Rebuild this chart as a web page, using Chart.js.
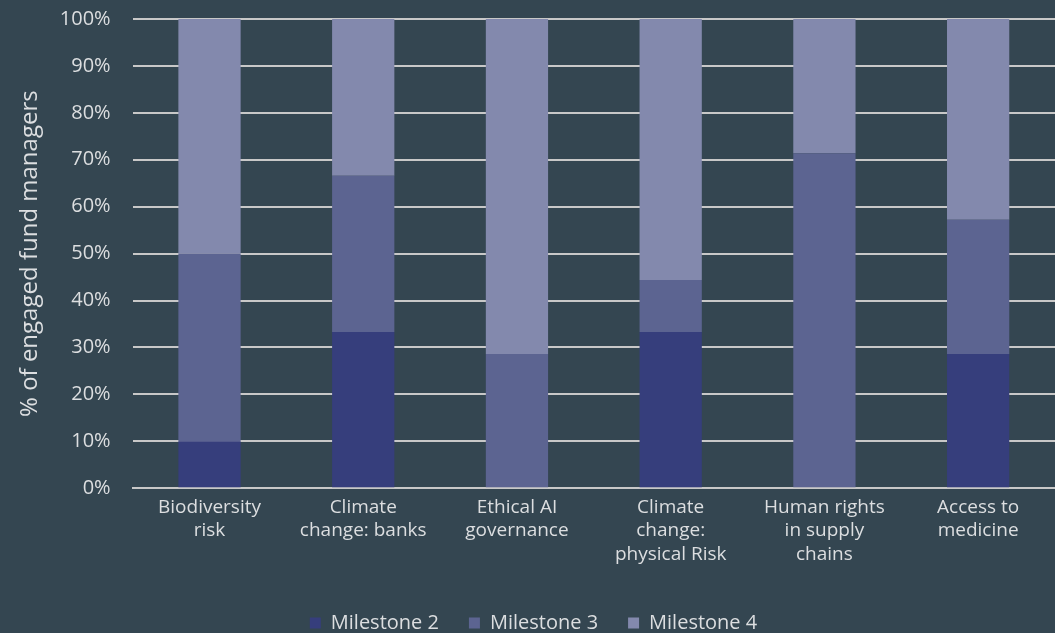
<!DOCTYPE html>
<html lang="en">
<head>
<meta charset="UTF-8">
<title>Milestones by engagement theme</title>
<script src="https://cdn.jsdelivr.net/npm/chart.js"></script>
<style>
    body {
    margin: 0;
    padding: 0;
    background-color: #344651;
    }
    #wrap {
    width: 1055px;
    height: 633px;
    }
</style>
</head>
<body>
<div id="wrap"><canvas id="chart"></canvas></div>
<script>
const categories = [
    ["Biodiversity", "risk"],
    ["Climate", "change: banks"],
    ["Ethical AI", "governance"],
    ["Climate", "change:", "physical Risk"],
    ["Human rights", "in supply", "chains"],
    ["Access to", "medicine"]
];
const milestone2 = [10, 33.3, 0, 33.3, 0, 28.6];
const milestone3 = [40, 33.3, 28.6, 11.1, 71.4, 28.6];
const milestone4 = [50, 33.4, 71.4, 55.6, 28.6, 42.8];
const yTicks = [0, 10, 20, 30, 40, 50, 60, 70, 80, 90, 100];

const textColor = "#dcdee0";
const fontFamily = "'Open Sans', sans-serif";

new Chart(document.getElementById("chart"), {
    type: "bar",
    data: {
        labels: categories,
        datasets: [
            { label: "Milestone 2", data: milestone2, backgroundColor: "#363e7c" },
            { label: "Milestone 3", data: milestone3, backgroundColor: "#5c6491" },
            { label: "Milestone 4", data: milestone4, backgroundColor: "#8389ad" }
        ]
    },
    options: {
        responsive: true,
        maintainAspectRatio: false,
        animation: false,
        layout: { padding: { top: 0, right: 0, bottom: -10, left: 12 } },
        datasets: { bar: { barPercentage: 1, categoryPercentage: 0.405 } },
        scales: {
            x: {
                stacked: true,
                grid: { display: false, drawTicks: false, tickLength: 0 },
                border: { color: "#c8c8c8", width: 2 },
                ticks: {
                    color: textColor,
                    font: { family: fontFamily, size: 19, lineHeight: 1.22 },
                    maxRotation: 0,
                    padding: 8
                }
            },
            y: {
                stacked: true,
                min: 0,
                max: 100,
                afterBuildTicks: axis => { axis.ticks = yTicks.map(v => ({ value: v })); },
                grid: { color: "#c8c8c8", lineWidth: 2, drawTicks: true, tickLength: 15, tickColor: "transparent" },
                border: { display: false },
                ticks: {
                    color: textColor,
                    font: { family: fontFamily, size: 20 },
                    padding: 7,
                    callback: v => v + "%"
                },
                title: {
                    display: true,
                    text: "% of engaged fund managers",
                    color: textColor,
                    font: { family: fontFamily, size: 24 },
                    padding: { top: 4, bottom: 8 }
                }
            }
        },
        plugins: {
            tooltip: { enabled: false },
            legend: {
                position: "bottom",
                title: {
                    display: true,
                    text: "",
                    font: { size: 1 },
                    padding: { top: 8, bottom: 0 }
                },
                labels: {
                    color: textColor,
                    font: { family: fontFamily, size: 20 },
                    boxWidth: 11,
                    boxHeight: 11,
                    padding: 30
                }
            }
        }
    }
});
</script>
</body>
</html>
